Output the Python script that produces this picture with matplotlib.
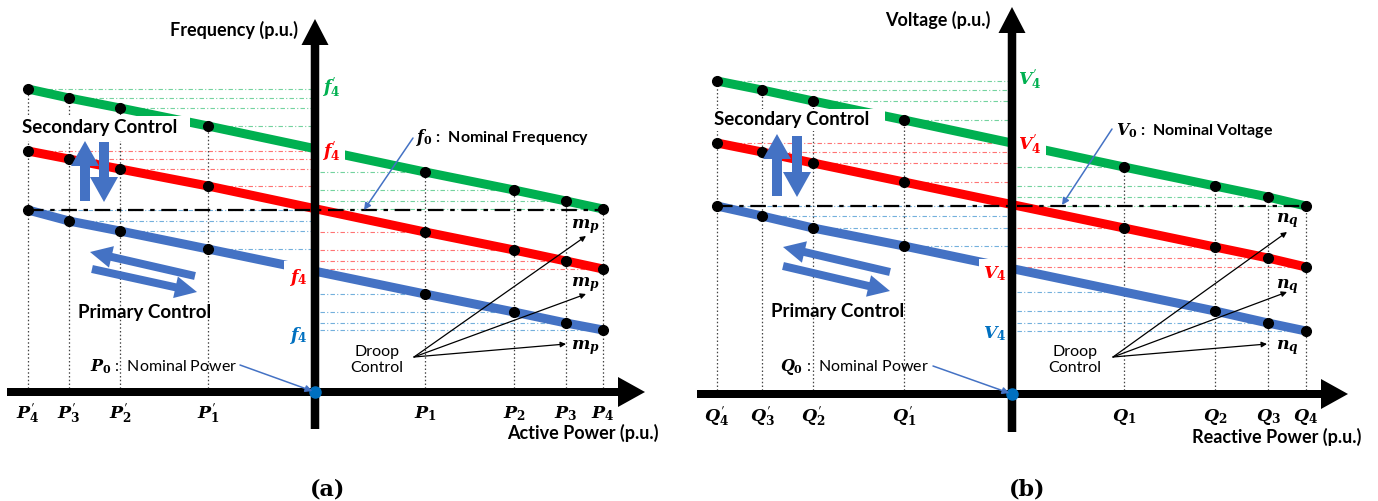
import matplotlib
matplotlib.use("Agg")
import matplotlib.pyplot as plt
from matplotlib.patches import FancyArrow, Rectangle

plt.rcParams['mathtext.fontset'] = 'custom'
plt.rcParams['mathtext.it'] = 'DejaVu Serif:italic:bold'
plt.rcParams['mathtext.rm'] = 'DejaVu Serif:bold'
plt.rcParams['mathtext.bf'] = 'DejaVu Serif:bold'
plt.rcParams['mathtext.sf'] = 'STIXGeneral:bold'

PR = "^{\\mathsf{\u2032}}"

# ---------------- Panel (a): frequency / active power ----------------
p_labels = [rf"$P{PR}_4$", rf"$P{PR}_3$", rf"$P{PR}_2$", rf"$P{PR}_1$",
            r"$P_1$", r"$P_2$", r"$P_3$", r"$P_4$"]
p_pos = [-2.87, -2.46, -1.95, -1.07, 1.10, 1.99, 2.51, 2.88]
f_green = [3.03, 2.94, 2.84, 2.66, 2.20, 2.02, 1.91, 1.83]
f_red = [2.41, 2.33, 2.23, 2.06, 1.60, 1.42, 1.31, 1.23]
f_blue = [1.82, 1.71, 1.61, 1.43, 0.98, 0.80, 0.69, 0.62]
f_nominal = 1.82
f_axis_labels = [rf"$f{PR}_4$", rf"$f{PR}_4$", r"$f_4$", r"$f_4$"]
f_blue_marked = [True] * 8

# ---------------- Panel (b): voltage / reactive power ----------------
q_labels = [rf"$Q{PR}_4$", rf"$Q{PR}_3$", rf"$Q{PR}_2$", rf"$Q{PR}_1$",
            r"$Q_1$", r"$Q_2$", r"$Q_3$", r"$Q_4$"]
q_pos = [-2.95, -2.50, -1.99, -1.08, 1.12, 2.03, 2.56, 2.94]
v_green = [3.13, 3.04, 2.93, 2.74, 2.27, 2.08, 1.97, 1.88]
v_red = [2.51, 2.42, 2.31, 2.12, 1.66, 1.47, 1.36, 1.27]
v_blue = [1.88, 1.78, 1.66, 1.48, 1.02, 0.83, 0.71, 0.63]
v_nominal = 1.88
v_axis_labels = [rf"$V{PR}_4$", rf"$V{PR}_4$", r"$V_4$", r"$V_4$"]
v_blue_marked = [True, True, True, True, False, True, True, True]

GREEN = '#00B050'
RED = '#FF0000'
BLUE = '#4472C4'
LBLUE = '#0070C0'

fig = plt.figure(figsize=(13.78, 5.02), dpi=100)
ax_a = fig.add_axes([0, 0, 689 / 1378, 1])
ax_b = fig.add_axes([689 / 1378, 0, 689 / 1378, 1])
ax_a.set_xlim(-3.15, 3.74); ax_a.set_ylim(-1.09, 3.93)
ax_b.set_xlim(-3.23, 3.66); ax_b.set_ylim(-1.07, 3.95)
for ax in (ax_a, ax_b):
    ax.axis('off')


def draw_panel(ax, xs, g, r, b, nominal, tick_labels, axis_labels, blue_marked, cfg):
    series = [(g, GREEN), (r, RED), (b, LBLUE)]
    # reference dash-dot lines from points to the vertical axis
    for vals, col in series:
        for x, y in zip(xs, vals):
            x0, x1 = (x, 0) if x < 0 else (0.05, x)
            ax.plot([x0, x1], [y, y], color=col, lw=0.8, alpha=0.55,
                    linestyle=(0, (4, 2, 1, 2)), zorder=1)
    # vertical dotted lines
    for x, y in zip(xs, g):
        ax.plot([x, x], [0, y], color='#444444', lw=0.9, linestyle=(0, (1.2, 1.8)), zorder=1.5)
    # droop lines
    for vals, col in [(g, GREEN), (r, RED), (b, BLUE)]:
        ax.plot(xs, vals, color=col, lw=6.5, solid_capstyle='butt', zorder=3)
    # mask behind "Secondary Control"
    ax.add_patch(Rectangle(cfg['mask_xy'], cfg['mask_w'], cfg['mask_h'],
                           facecolor='white', edgecolor='none', zorder=3.2))
    # nominal line
    ax.plot([xs[0], xs[-1]], [nominal, nominal], color='black', lw=1.6,
            linestyle=(0, (7, 3, 2, 3)), zorder=3.5)
    # points
    ax.plot(xs, g, 'o', color='black', ms=7, zorder=4)
    ax.plot(xs, r, 'o', color='black', ms=7, zorder=4)
    bx = [x for x, m in zip(xs, blue_marked) if m]
    by = [y for y, m in zip(b, blue_marked) if m]
    ax.plot(bx, by, 'o', color='black', ms=7, zorder=4)

    # axes arrows
    ox0, ox1 = cfg['xaxis']
    ax.add_patch(FancyArrow(ox0, 0, ox1 - ox0, 0, width=0.08, head_width=0.30,
                            head_length=0.27, length_includes_head=True,
                            fc='black', ec='none', zorder=6))
    oy0, oy1 = cfg['yaxis']
    ax.add_patch(FancyArrow(0, oy0, 0, oy1 - oy0, width=0.085, head_width=0.27,
                            head_length=0.26, length_includes_head=True,
                            fc='black', ec='none', zorder=6))
    ax.plot(0, 0, 'o', color=LBLUE, ms=8, zorder=7)

    # tick labels
    for x, lab in zip(xs, tick_labels):
        ax.text(x, cfg['tick_y'], lab, ha='center', va='center', fontsize=12.5, zorder=8)

    # labels on vertical axis
    cols = [GREEN, RED, RED, LBLUE]
    for (lx, ly), lab, col in zip(cfg['axis_label_pos'], axis_labels, cols):
        ax.text(lx, ly, lab, ha='center', va='center', fontsize=12.5, color=col, zorder=5,
                bbox=dict(boxstyle='square,pad=0.25', fc='white', ec='none'))

    ax.text(*cfg['ylabel_pos'], cfg['ylabel'], ha='center', va='center', fontsize=13,
            fontfamily='Lato', fontweight='bold')
    ax.text(*cfg['xlabel_pos'], cfg['xlabel'], ha='center', va='center', fontsize=13,
            fontfamily='Lato', fontweight='bold')
    ax.text(*cfg['panel_pos'], cfg['panel'], ha='center', va='center', fontsize=16,
            fontfamily='DejaVu Serif', fontweight='bold')

    ax.text(*cfg['sec_pos'], 'Secondary Control', ha='center', va='center', fontsize=13.5,
            fontfamily='Lato', fontweight='bold', zorder=5)
    ax.text(*cfg['prim_pos'], 'Primary Control', ha='center', va='center', fontsize=13.5,
            fontfamily='Lato', fontweight='bold', zorder=5)

    # secondary control arrows
    for x, y0, y1 in cfg['sec_arrows']:
        ax.add_patch(FancyArrow(x, y0, 0, y1 - y0, width=0.10, head_width=0.28,
                                head_length=0.25, length_includes_head=True,
                                fc=BLUE, ec='none', zorder=5))
    # primary control arrows
    for (x0, y0), (x1, y1) in cfg['prim_arrows']:
        ax.add_patch(FancyArrow(x0, y0, x1 - x0, y1 - y0, width=0.08, head_width=0.22,
                                head_length=0.22, length_includes_head=True,
                                fc=BLUE, ec='none', zorder=5))

    # nominal annotations
    ax.text(*cfg['nom_pos'], cfg['nom_text'], ha='left', va='center', fontsize=11.5,
            fontfamily='Lato', fontweight='bold', zorder=8)
    ax.annotate('', xy=cfg['nom_arrow'][1], xytext=cfg['nom_arrow'][0],
                arrowprops=dict(arrowstyle='-|>', color=BLUE, lw=1.1, mutation_scale=10,
                                shrinkA=0, shrinkB=0), zorder=8)
    ax.text(*cfg['p0_pos'], cfg['p0_text'], ha='left', va='center', fontsize=11.5,
            fontfamily='Lato', zorder=8)
    ax.annotate('', xy=(0, 0), xytext=cfg['p0_arrow'],
                arrowprops=dict(arrowstyle='-|>', color=BLUE, lw=1.1, mutation_scale=10,
                                shrinkA=0, shrinkB=2), zorder=8)

    # droop control
    ax.text(*cfg['droop_pos'], 'Droop\nControl', ha='center', va='center', fontsize=11.5,
            fontfamily='Lato', linespacing=1.15, zorder=8)
    for tip in cfg['droop_tips']:
        ax.annotate('', xy=tip, xytext=cfg['droop_origin'],
                    arrowprops=dict(arrowstyle='-|>', color='black', lw=0.9, mutation_scale=8,
                                    shrinkA=0, shrinkB=0), zorder=8)
    for pos in cfg['coef_pos']:
        ax.text(*pos, cfg['coef'], ha='center', va='center', fontsize=12.5, zorder=8)


cfg_a = dict(
    mask_xy=(-2.95, 2.51), mask_w=1.70, mask_h=0.25,
    xaxis=(-3.08, 3.30), yaxis=(-0.37, 3.73), tick_y=-0.21,
    axis_label_pos=[(0.16, 3.05), (0.16, 2.41), (-0.17, 1.16), (-0.17, 0.58)],
    ylabel='Frequency (p.u.)', ylabel_pos=(-0.81, 3.63),
    xlabel='Active Power (p.u.)', xlabel_pos=(2.68, -0.40),
    panel='(a)', panel_pos=(0.13, -0.97),
    sec_pos=(-2.15, 2.65), prim_pos=(-1.70, 0.80),
    sec_arrows=[(-2.30, 1.91, 2.51), (-2.11, 2.50, 1.90)],
    prim_arrows=[((-1.20, 1.16), (-2.25, 1.40)), ((-2.23, 1.23), (-1.18, 1.00))],
    nom_pos=(1.01, 2.55), nom_text=r'$f_0$ :  Nominal Frequency',
    nom_arrow=((0.98, 2.54), (0.49, 1.82)),
    p0_pos=(-2.25, 0.26), p0_text=r'$P_0$ :  Nominal Power', p0_arrow=(-0.75, 0.27),
    droop_pos=(0.62, 0.33), droop_origin=(0.99, 0.35),
    droop_tips=[(2.71, 1.56), (2.71, 0.98), (2.51, 0.48)],
    coef=r'$m_p$', coef_pos=[(2.70, 1.66), (2.70, 1.08), (2.70, 0.45)],
)

cfg_b = dict(
    mask_xy=(-3.02, 2.63), mask_w=1.75, mask_h=0.22,
    xaxis=(-3.15, 3.36), yaxis=(-0.38, 3.87), tick_y=-0.22,
    axis_label_pos=[(0.18, 3.15), (0.18, 2.50), (-0.17, 1.21), (-0.17, 0.61)],
    ylabel='Voltage (p.u.)', ylabel_pos=(-0.74, 3.75),
    xlabel='Reactive Power (p.u.)', xlabel_pos=(2.65, -0.42),
    panel='(b)', panel_pos=(0.15, -0.95),
    sec_pos=(-2.20, 2.75), prim_pos=(-1.74, 0.83),
    sec_arrows=[(-2.35, 1.98, 2.60), (-2.15, 2.58, 1.97)],
    prim_arrows=[((-1.22, 1.22), (-2.29, 1.47)), ((-2.29, 1.28), (-1.22, 1.03))],
    nom_pos=(1.04, 2.65), nom_text=r'$V_0$ :  Nominal Voltage',
    nom_arrow=((1.00, 2.65), (0.50, 1.89)),
    p0_pos=(-2.32, 0.28), p0_text=r'$Q_0$ :  Nominal Power', p0_arrow=(-0.79, 0.28),
    droop_pos=(0.63, 0.35), droop_origin=(1.01, 0.37),
    droop_tips=[(2.75, 1.62), (2.75, 1.02), (2.55, 0.50)],
    coef=r'$n_q$', coef_pos=[(2.75, 1.74), (2.75, 1.08), (2.75, 0.47)],
)

draw_panel(ax_a, p_pos, f_green, f_red, f_blue, f_nominal, p_labels, f_axis_labels,
           f_blue_marked, cfg_a)
draw_panel(ax_b, q_pos, v_green, v_red, v_blue, v_nominal, q_labels, v_axis_labels,
           v_blue_marked, cfg_b)

fig.savefig('out.png', dpi=100)
